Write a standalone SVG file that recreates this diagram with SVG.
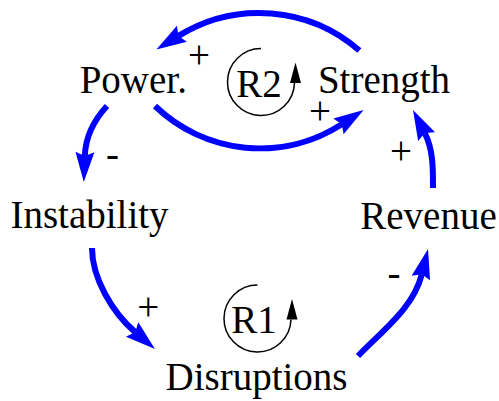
<svg xmlns="http://www.w3.org/2000/svg" xmlns:xlink="http://www.w3.org/1999/xlink" width="499" height="401" viewBox="0 0 499 401">
  <style>
    text { font-family: "Liberation Serif", "DejaVu Serif", serif; font-size: 39px; fill: #000; text-anchor: middle; }
    .link { fill: none; stroke: #0000ff; stroke-width: 6; marker-end: url(#ah); }
    .loop { fill: none; stroke: #000; stroke-width: 1.5; }
  </style>
  <defs>
    <marker id="ah" markerUnits="userSpaceOnUse" markerWidth="31" markerHeight="19" refX="4" refY="9.5" orient="auto" overflow="visible">
      <path d="M0,0 L30,9.5 L0,19 L4,9.5 Z" fill="#0000ff"/>
    </marker>
    <g id="loopsym">
      <path class="loop" d="M0,-33.5 A33.5,33.5 0 1 0 33.48,1"/>
      <polygon points="34.5,-19.5 29,1 40,1" fill="#000"/>
    </g>
  </defs>

  <g id="connectors">
    <path class="link" d="M359.4,50.5 A153,153 0 0 0 178.5,35.9"/>
    <path class="link" d="M155,106 A151,151 0 0 0 341.8,124.2"/>
    <path class="link" d="M107,106 C94,120 85.5,138 84.8,156"/>
    <path class="link" d="M92,248 C92,278 112.4,312.6 135.2,332.1"/>
    <path class="link" d="M358,356 C382.2,330.8 413.4,308.2 421.8,274.2"/>
    <path class="link" d="M433,188 C433,169 433.4,150 424.8,133.1"/>
  </g>

  <g id="polarities">
    <text x="199" y="68">+</text>
    <text x="320" y="123.5">+</text>
    <text x="112.5" y="166.5">-</text>
    <text x="148.3" y="320">+</text>
    <text x="394" y="286">-</text>
    <text x="401" y="163.5">+</text>
  </g>

  <g id="loop-r2">
    <use xlink:href="#loopsym" x="261" y="82"/>
    <text x="259" y="97">R2</text>
  </g>
  <g id="loop-r1">
    <use xlink:href="#loopsym" x="257.5" y="318.5"/>
    <text x="254" y="333">R1</text>
  </g>

  <g id="power"><text x="133.3" y="93">Power.</text></g>
  <g id="strength"><text x="384" y="93">Strength</text></g>
  <g id="instability"><text x="89.5" y="228">Instability</text></g>
  <g id="revenue"><text x="428.5" y="229">Revenue</text></g>
  <g id="disruptions"><text x="256.5" y="390">Disruptions</text></g>
</svg>
